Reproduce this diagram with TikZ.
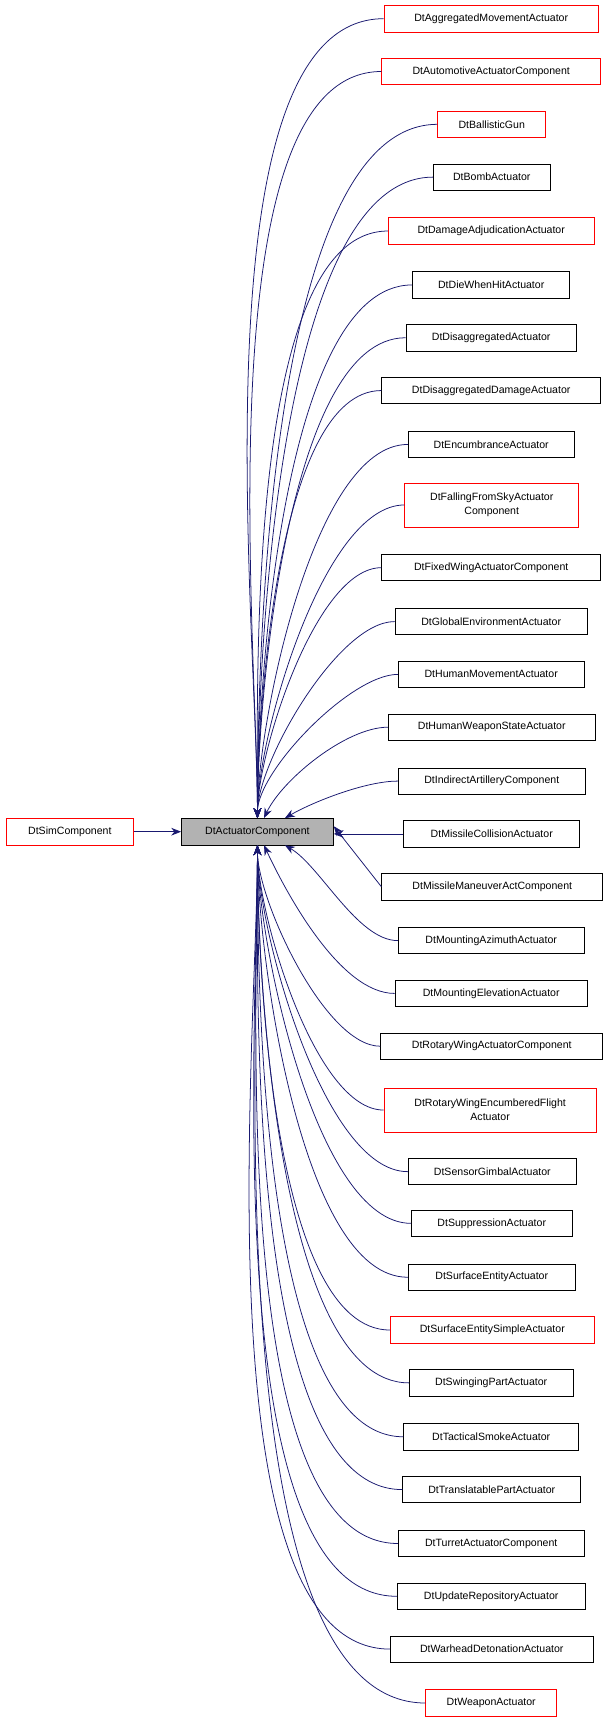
\documentclass[tikz,border=0pt]{standalone}
\usepackage{fontspec}
\setmainfont{Liberation Sans}
\usetikzlibrary{arrows.meta}
\definecolor{edgec}{HTML}{191970}
\tikzset{box/.style={draw,inner sep=1pt,align=center,font=\fontsize{9.6}{13}\selectfont,line width=0.7pt},
edge/.style={edgec,line width=0.7pt,{Stealth[length=9pt,width=7pt]}-}}
\begin{document}
\begin{tikzpicture}[x=1pt,y=-1pt]
\useasboundingbox (0,0) rectangle (553,1568);
\node[box,fill=black!30,minimum width=138pt,minimum height=24pt] (act) at (234,756) {DtActuatorComponent};
\node[box,draw=red,minimum width=115pt,minimum height=24pt] (sim) at (63.5,756) {DtSimComponent};
\draw[edge] (act.west) -- (sim.east);
\foreach \i/\y/\l/\r/\c/\t/\h in {
1/17/349/544/red/DtAggregatedMovementActuator/24,
2/65/347/546/red/DtAutomotiveActuatorComponent/24,
3/113/398/496/red/DtBallisticGun/24,
4/161/394/500/black/DtBombActuator/24,
5/210/353/540/red/DtDamageAdjudicationActuator/24,
6/259/375/518/black/DtDieWhenHitActuator/24,
7/307/369/524/black/DtDisaggregatedActuator/24,
8/355/347/546/black/DtDisaggregatedDamageActuator/24,
9/404/371/522/black/DtEncumbranceActuator/24,
10/459/368/526/red/{DtFallingFromSkyActuator\\Component}/40,
11/516/347/546/black/DtFixedWingActuatorComponent/24,
12/565/359/534/black/DtGlobalEnvironmentActuator/24,
13/613/362/531/black/DtHumanMovementActuator/24,
14/661/353/541/black/DtHumanWeaponStateActuator/24,
15/710/362/532/black/DtIndirectArtilleryComponent/24,
16/758/367/527/black/DtMissileCollisionActuator/24,
17/806/347/548/black/DtMissileManeuverActComponent/24,
18/855/362/531/black/DtMountingAzimuthActuator/24,
19/903/359/534/black/DtMountingElevationActuator/24,
20/951/346/548/black/DtRotaryWingActuatorComponent/24,
21/1009/349/542/red/{DtRotaryWingEncumberedFlight\\Actuator}/40,
22/1065/371/524/black/DtSensorGimbalActuator/24,
23/1112/374/520/black/DtSuppressionActuator/24,
24/1161/371/523/black/DtSurfaceEntityActuator/24,
25/1209/355/540/red/DtSurfaceEntitySimpleActuator/24,
26/1257/372/521/black/DtSwingingPartActuator/24,
27/1306/367/526/black/DtTacticalSmokeActuator/24,
28/1354/366/528/black/DtTranslatablePartActuator/24,
29/1403/362/531/black/DtTurretActuatorComponent/24,
30/1451/361/532/black/DtUpdateRepositoryActuator/24,
31/1499/355/539/black/DtWarheadDetonationActuator/24,
32/1548/387/506/red/DtWeaponActuator/24}{
\node[box,draw=\c,minimum width={(\r-\l)*1pt},minimum height=\h pt] (n\i) at ({(\l+\r)/2},\y) {\t};
}
\foreach \i in {1,...,13}{\draw[edge] (act.north) to[out=90,in=180,looseness=0.6] (n\i.west);}
\draw[edge] ([xshift=6pt]act.north) to[out=65,in=180,looseness=0.7] (n14.west);
\draw[edge] ([xshift=25pt]act.north) to[out=30,in=180,looseness=0.7] (n15.west);
\draw[edge] ([yshift=-2pt]act.east) -- (n16.west);
\draw[edge] ([yshift=5pt]act.east) -- (n17.west);
\draw[edge] ([xshift=25pt]act.south) to[out=-30,in=180,looseness=0.7] (n18.west);
\draw[edge] ([xshift=6pt]act.south) to[out=-65,in=180,looseness=0.7] (n19.west);
\foreach \i in {20,...,32}{\draw[edge] (act.south) to[out=-90,in=180,looseness=0.6] (n\i.west);}
\end{tikzpicture}
\end{document}
